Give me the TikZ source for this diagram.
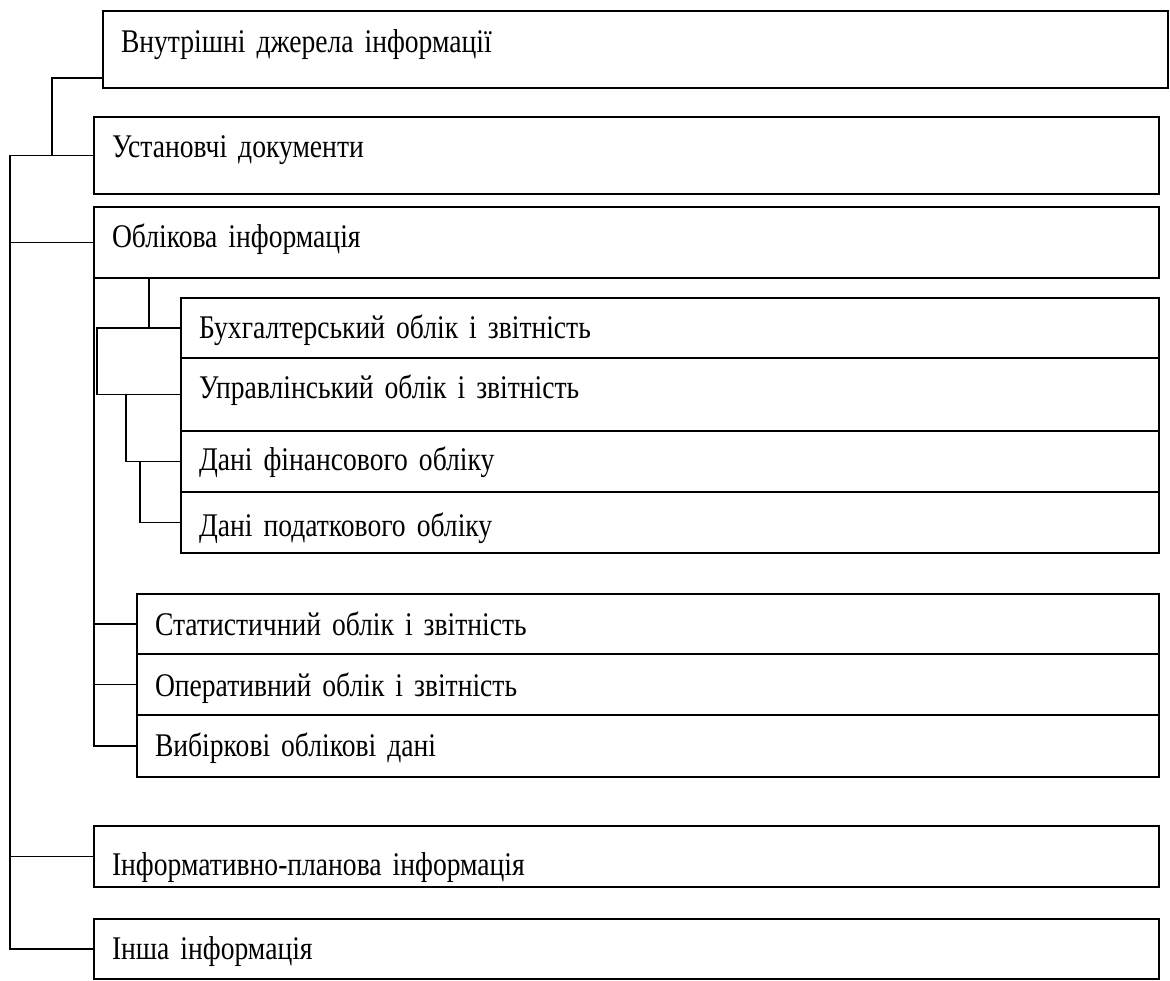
\documentclass[tikz,border=0pt]{standalone}
\usepackage{fontspec}
\setmainfont{Liberation Serif}[FakeStretch=0.835]
\usetikzlibrary{positioning}

\begin{document}
\begin{tikzpicture}[
    x=0.025cm, y=-0.025cm,
    every node/.style={font=\fontsize{23.5}{28}\selectfont},
    box/.style={rectangle, draw, line width=1.2pt, outer sep=0pt, inner xsep=0.45cm, inner ysep=0pt, anchor=north west, align=left, text height=1cm},
    mainbox/.style={box, text width=25.725cm},
    subbox/.style={box, text width=23.55cm},
    accbox/.style={box, text width=24.65cm},
    link/.style={draw, line width=1.2pt}
]
\useasboundingbox (0,0) rectangle (1170,980);

% Boxes
\node[mainbox, text height=1.025cm, text depth=0.9cm] (src) at (103,11) {Внутрішні джерела інформації};
\node[mainbox, text depth=0.925cm] (docs) at (94,117) {Установчі документи};
\node[mainbox, text depth=0.775cm] (acc) at (94,207) {Облікова інформація};
\node[subbox, text depth=0.5cm] (book) at (181,298) {Бухгалтерський облік і звітність};
\node[subbox, text depth=0.825cm, below=0pt of book.south west, anchor=north west] (mgmt) {Управлінський облік і звітність};
\node[subbox, text height=0.975cm, text depth=0.55cm, below=0pt of mgmt.south west, anchor=north west] (fin) {Дані фінансового обліку};
\node[subbox, text height=1.1cm, text depth=0.425cm, below=0pt of fin.south west, anchor=north west] (tax) {Дані податкового обліку};
\node[accbox, text height=1.025cm, text depth=0.475cm] (stat) at (137,594) {Статистичний облік і звітність};
\node[accbox, text height=1.05cm, text depth=0.475cm, below=0pt of stat.south west, anchor=north west] (oper) {Оперативний облік і звітність};
\node[accbox, text height=1.025cm, text depth=0.525cm, below=0pt of oper.south west, anchor=north west] (samp) {Вибіркові облікові дані};
\node[mainbox, text height=1.225cm, text depth=0.3cm] (plan) at (94,826) {Інформативно-планова інформація};
\node[mainbox, text depth=0.5cm] (other) at (94,919) {Інша інформація};

% Links
\coordinate (spine) at ([xshift=-2.1cm]docs.west);
\draw[link] ([yshift=0.25cm]src.south west) -| ([xshift=-1.05cm]docs.west);
\draw[link] (docs.west) -- (spine) |- (other.west);
\draw[link] (spine |- acc.west) -- (acc.west);
\draw[link] (spine |- plan.west) -- (plan.west);
\draw[link] (acc.south west) |- (samp.west);
\draw[link] (acc.south west |- stat.west) -- (stat.west);
\draw[link] (acc.south west |- oper.west) -- (oper.west);
\coordinate (bk) at ([xshift=-0.8cm]book.west);
\draw[link] (bk |- acc.south) -- (bk);
\draw[link] (book.west) -- ++(-2.1cm,0) |- (mgmt.west);
\draw[link] ([xshift=-1.375cm]mgmt.west) |- (fin.west);
\draw[link] ([xshift=-1.025cm]fin.west) |- (tax.west);

\end{tikzpicture}
\end{document}
